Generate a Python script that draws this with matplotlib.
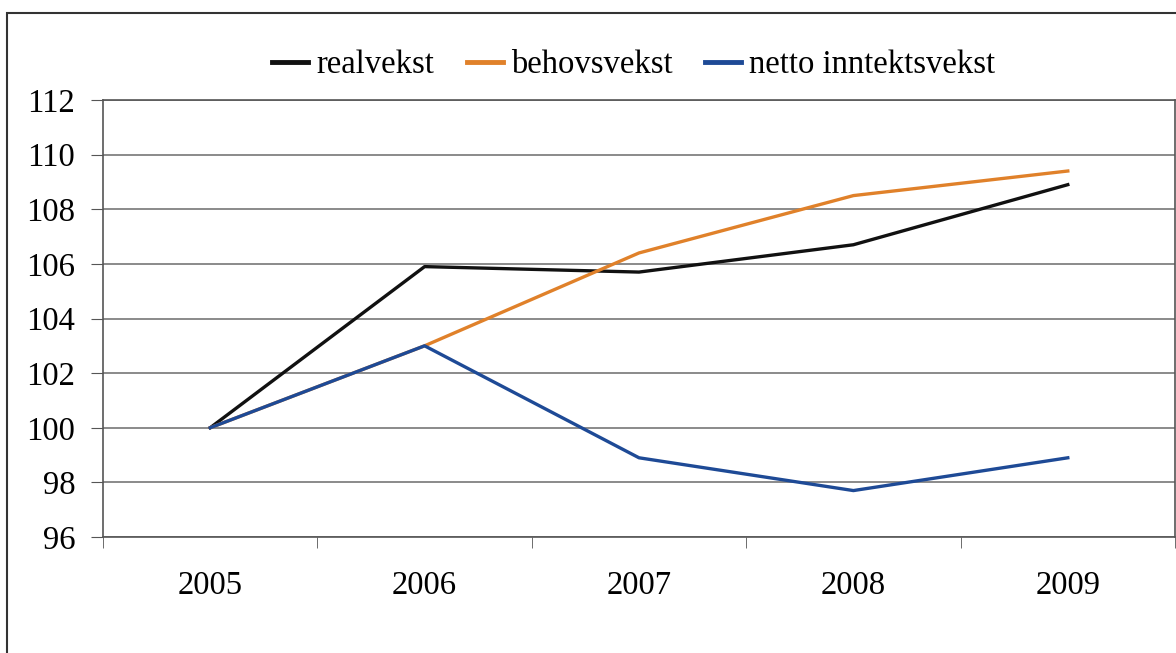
import numpy as np
import matplotlib
matplotlib.use("Agg")
import matplotlib.pyplot as plt
from matplotlib.patches import Rectangle

years = ["2005", "2006", "2007", "2008", "2009"]
realvekst = [100.0, 105.9, 105.7, 106.7, 108.9]
behovsvekst = [100.0, 103.0, 106.4, 108.5, 109.4]
netto = [100.0, 103.0, 98.9, 97.7, 98.9]
yticks = [96, 98, 100, 102, 104, 106, 108, 110, 112]

plt.rcParams["font.family"] = ["Liberation Serif", "DejaVu Serif"]

fig = plt.figure(figsize=(11.76, 6.53), dpi=100)
ax = fig.add_axes([103 / 1176, 1 - 537 / 653, (1175 - 103) / 1176, (537 - 100) / 653])

# outer frame of the chart
fig.patches.append(Rectangle((7 / 1176, -0.1), 1.2, 1 - 13 / 653 + 0.1,
                             transform=fig.transFigure, fill=False,
                             edgecolor="#333333", linewidth=1.5))

x = np.arange(len(years))
ax.plot(x, realvekst, color="#111111", lw=2.4, label="realvekst")
ax.plot(x, behovsvekst, color="#E0812A", lw=2.4, label="behovsvekst")
ax.plot(x, netto, color="#1E4A96", lw=2.4, label="netto inntektsvekst")

fs = 23.5
ax.set_xlim(-0.5, len(years) - 0.5)
ax.set_ylim(96, 112)
ax.set_yticks(yticks)
ax.set_yticklabels([str(v) for v in yticks], fontsize=fs)
ax.set_xticks(x)
ax.set_xticklabels(years, fontsize=fs)
ax.set_xticks(np.arange(len(years) + 1) - 0.5, minor=True)
ax.tick_params(axis="x", which="major", length=0, pad=24)
ax.tick_params(axis="x", which="minor", length=8, color="#555555", direction="out")
ax.tick_params(axis="y", length=9, color="#555555", direction="out", pad=11)
ax.grid(axis="y", color="#777777", lw=1.2)
ax.set_axisbelow(True)
for s in ["left", "bottom", "right", "top"]:
    ax.spines[s].set_color("#555555")
    ax.spines[s].set_linewidth(1.2)

leg = fig.legend(loc="center", bbox_to_anchor=(634 / 1176, 1 - 65 / 653), ncol=3,
                 frameon=False, fontsize=fs, handlelength=1.1, handletextpad=0.25,
                 columnspacing=1.0)
for h in leg.get_lines():
    h.set_linewidth(3.5)

fig.savefig("out.png", dpi=100)
